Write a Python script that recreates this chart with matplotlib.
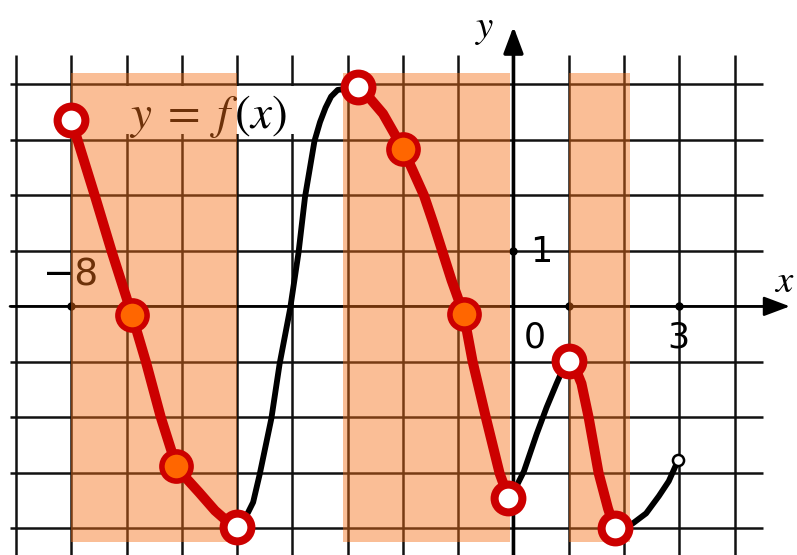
import matplotlib
matplotlib.use("Agg")
import matplotlib.pyplot as plt
from matplotlib.patches import Rectangle

plt.rcParams['mathtext.fontset'] = 'stix'

# --- dados ---
red1_x = [-8.0, -7.57, -7.27, -6.9, -6.65, -6.38, -6.1, -5.9, -5.69, -5.4, -5.16, -5.0]
red1_y = [3.36, 1.98, 0.99, -0.16, -1.0, -2.0, -2.88, -3.12, -3.35, -3.68, -3.89, -3.98]

black1_x = [-5.0, -4.9, -4.8, -4.71, -4.59, -4.38, -4.23, -4.04, -3.89, -3.77, -3.6,
            -3.5, -3.4, -3.3, -3.18, -2.82]
black1_y = [-3.98, -3.88, -3.71, -3.53, -3.02, -2.02, -1.03, -0.04, 0.96, 1.98, 2.98,
            3.32, 3.58, 3.78, 3.9, 3.94]

red2_x = [-2.82, -2.6, -2.36, -2.0, -1.62, -1.45, -1.29, -1.12, -0.9, -0.74, -0.5, -0.25, -0.09]
red2_y = [3.95, 3.75, 3.47, 2.84, 2.0, 1.5, 1.0, 0.47, -0.14, -0.99, -2.0, -3.01, -3.45]

black2_x = [-0.09, 0.05, 0.19, 0.42, 0.6, 0.78, 0.9, 1.0]
black2_y = [-3.42, -3.25, -2.97, -2.3, -1.82, -1.39, -1.12, -0.98]

red3_x = [1.0, 1.12, 1.23, 1.36, 1.54, 1.71, 1.83]
red3_y = [-0.98, -1.12, -1.39, -2.0, -3.0, -3.64, -4.0]

black3_x = [1.83, 2.0, 2.16, 2.4, 2.63, 2.81, 2.98]
black3_y = [-4.0, -3.97, -3.91, -3.73, -3.42, -3.15, -2.77]

white_x = [-8.0, -5.0, -2.82, -0.09, 1.0, 1.83]
white_y = [3.36, -3.98, 3.95, -3.45, -0.98, -4.0]

orange_x = [-6.9, -6.1, -2.0, -0.9]
orange_y = [-0.16, -2.88, 2.84, -0.14]

open_end_x = [2.98]
open_end_y = [-2.77]

shade_start = [-8.0, -3.09, 1.0]
shade_end = [-5.0, -0.06, 2.1]

tick_x = [-8, 1, 3]
tick_y = [1]
tick_x_labels = ["\u22128", "0", "3"]

fig = plt.figure(figsize=(7.97, 5.55), dpi=100)
ax = fig.add_axes([0, 0, 1, 1])
ax.set_xlim(-9.29, 5.13)
ax.set_ylim(-4.48, 5.52)
ax.axis('off')

# grade
ax.vlines(range(-9, 5), -4.48, 4.53, color='#111111', lw=1.8, zorder=1)
ax.hlines(range(-4, 5), -9.11, 4.51, color='#111111', lw=1.8, zorder=1)

# eixos com setas
ax.annotate('', xy=(5.0, 0), xytext=(-9.11, 0),
            arrowprops=dict(arrowstyle='-|>,head_length=0.8,head_width=0.3',
                            mutation_scale=20, lw=1.8, color='black',
                            shrinkA=0, shrinkB=0), zorder=2)
ax.annotate('', xy=(0, 5.04), xytext=(0, -4.48),
            arrowprops=dict(arrowstyle='-|>,head_length=0.8,head_width=0.3',
                            mutation_scale=20, lw=2.6, color='black',
                            shrinkA=0, shrinkB=0), zorder=2)
ax.plot(tick_x, [0] * len(tick_x), 'o', color='black', ms=5, zorder=2)
ax.plot([0] * len(tick_y), tick_y, 'o', color='black', ms=5, zorder=2)

ax.text(-8.02, 0.55, tick_x_labels[0], fontsize=27, ha='center', va='center', zorder=2)
ax.text(0.3, 0.98, "1", fontsize=25, ha='left', va='center', zorder=2)
ax.text(0.38, -0.56, tick_x_labels[1], fontsize=25, ha='center', va='center', zorder=2)
ax.text(2.98, -0.56, tick_x_labels[2], fontsize=25, ha='center', va='center', zorder=2)

ax.text(4.9, 0.46, '$x$', fontsize=28, ha='center', va='center', zorder=2)
ax.text(-0.52, 5.02, '$y$', fontsize=28, ha='center', va='center', zorder=2)

# rótulo da função (com fundo branco, por baixo do sombreado)
ax.add_patch(Rectangle((-7.1, 3.1), 3.3, 0.87, fc='white', ec='none', zorder=3))
ax.text(-5.53, 3.42, r'$y\;=\;f\,(x)$', fontsize=34, ha='center', va='center', zorder=3.5)

# faixas sombreadas
for a, b in zip(shade_start, shade_end):
    ax.add_patch(Rectangle((a, -4.24), b - a, 8.45, fc='#f46f16', alpha=0.45,
                           ec='none', zorder=4))

# curvas
red = '#cc0000'
for xs, ys in [(red1_x, red1_y), (red2_x, red2_y), (red3_x, red3_y)]:
    ax.plot(xs, ys, color=red, lw=7.2, solid_joinstyle='round',
            solid_capstyle='round', zorder=5)
for xs, ys in [(black1_x, black1_y), (black2_x, black2_y), (black3_x, black3_y)]:
    ax.plot(xs, ys, color='black', lw=4.2, solid_joinstyle='round',
            solid_capstyle='round', zorder=5)

ax.plot(open_end_x, open_end_y, 'o', ms=8, mfc='white', mec='black', mew=1.8, zorder=6)
ax.plot(white_x, white_y, 'o', ms=20, mfc='white', mec=red, mew=5.8, zorder=6)
ax.plot(orange_x, orange_y, 'o', ms=21, mfc='#ff6600', mec=red, mew=4, zorder=6)

fig.savefig('out.png', dpi=100)
